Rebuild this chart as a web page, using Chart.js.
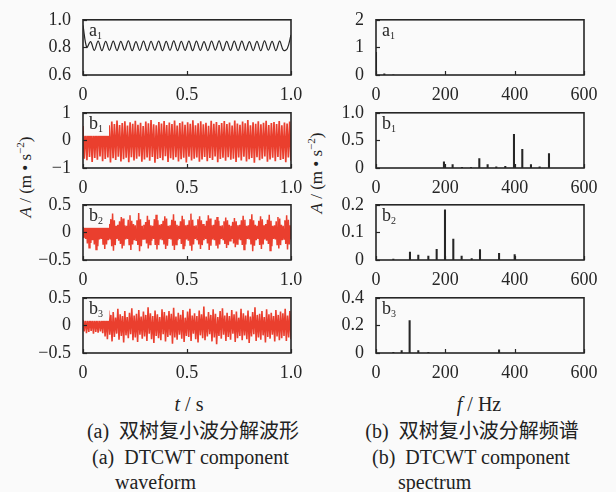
<!DOCTYPE html>
<html>
<head>
<meta charset="utf-8">
<script src="https://cdn.jsdelivr.net/npm/chart.js@4.4.1/dist/chart.umd.min.js"></script>
<style>
  body { margin: 0; width: 616px; height: 492px; position: relative; overflow: hidden;
         background: #fafafa; color: #222; font-family: "Liberation Serif", "Noto Sans CJK SC", serif; }
  .panel { position: absolute; }
  .txt { position: absolute; white-space: nowrap; font-size: 20px; line-height: 24px; }
  .center { transform: translateX(-50%); }
  .ytitle { position: absolute; white-space: nowrap; font-size: 17px; transform: translate(-50%, -50%) rotate(-90deg); }
  sup { font-size: 11px; vertical-align: 7px; }
</style>
</head>
<body>
<div class="ytitle" style="left:25px; top:177px;"><i>A</i> / (m • s<sup>−2</sup>)</div>
<div class="ytitle" style="left:316px; top:173px;"><i>A</i> / (m • s<sup>−2</sup>)</div>
<div class="txt center" style="left:189px; top:392px;"><i>t</i> / s</div>
<div class="txt center" style="left:479px; top:392px;"><i>f</i> / Hz</div>
<div class="txt center" style="left:193px; top:419px;">(a)&nbsp; 双树复小波分解波形</div>
<div class="txt center" style="left:472px; top:419px;">(b)&nbsp; 双树复小波分解频谱</div>
<div class="txt" style="left:92px; top:445px;">(a)&nbsp; DTCWT component</div>
<div class="txt" style="left:115px; top:470px;">waveform</div>
<div class="txt" style="left:372px; top:445px;">(b)&nbsp; DTCWT component</div>
<div class="txt" style="left:398px; top:470px;">spectrum</div>

<script>
// ---- tick values and labels ----
const timeTicks = [0, 0.5, 1];
const timeLabels = ['0', '0.5', '1.0'];
const freqTicks = [0, 200, 400, 600];
const freqLabels = ['0', '200', '400', '600'];

const a1WaveTicks = [0.6, 0.8, 1.0];
const a1WaveLabels = ['0.6', '0.8', '1.0'];
const b1WaveTicks = [-1, 0, 1];
const b1WaveLabels = ['−1', '0', '1'];
const b2WaveTicks = [-0.5, 0, 0.5];
const b2WaveLabels = ['−0.5', '0', '0.5'];
const b3WaveTicks = [-0.5, 0, 0.5];
const b3WaveLabels = ['−0.5', '0', '0.5'];

const a1SpecTicks = [0, 1, 2];
const a1SpecLabels = ['0', '1', '2'];
const b1SpecTicks = [0, 0.5, 1];
const b1SpecLabels = ['0', '0.5', '1.0'];
const b2SpecTicks = [0, 0.1, 0.2];
const b2SpecLabels = ['0', '0.1', '0.2'];
const b3SpecTicks = [0, 0.2, 0.4];
const b3SpecLabels = ['0', '0.2', '0.4'];

// ---- waveforms (a1: samples; b1..b3: alternating crest / trough values) ----
const a1Wave = [
  0.96, 0.80, 0.842, 0.778, 0.846, 0.776, 0.843, 0.779, 0.845, 0.777,
  0.844, 0.780, 0.847, 0.776, 0.842, 0.778, 0.846, 0.777, 0.843, 0.780,
  0.845, 0.776, 0.844, 0.779, 0.847, 0.777, 0.843, 0.778, 0.845, 0.776,
  0.846, 0.779, 0.842, 0.777, 0.845, 0.780, 0.847, 0.776, 0.843, 0.778,
  0.845, 0.777, 0.846, 0.779, 0.842, 0.777, 0.844, 0.776, 0.847, 0.780,
  0.843, 0.777, 0.845, 0.778, 0.79, 0.89
];

const b1Upper = [
  0.52, 0.50, 0.55, 0.51, 0.53, 0.50, 0.64, 0.57, 0.70, 0.61, 0.55, 0.68, 0.59, 0.72, 0.56, 0.63, 0.69, 0.54, 0.66, 0.60,
  0.71, 0.57, 0.64, 0.52, 0.68, 0.62, 0.74, 0.58, 0.55, 0.67, 0.61, 0.70, 0.56, 0.65, 0.59, 0.72, 0.54, 0.63, 0.68, 0.57,
  0.66, 0.60, 0.73, 0.55, 0.62, 0.69, 0.58, 0.64, 0.53, 0.71, 0.60, 0.67, 0.56, 0.63, 0.70, 0.59, 0.65, 0.54, 0.72, 0.61,
  0.57, 0.68, 0.62, 0.74, 0.55, 0.66, 0.60, 0.69, 0.58, 0.64, 0.71, 0.56, 0.63, 0.67, 0.59, 0.70, 0.55, 0.65, 0.61, 0.68
];
const b1Lower = [
  -0.66, -0.72, -0.60, -0.78, -0.64, -0.70, -0.58, -0.75, -0.67, -0.62, -0.80, -0.65, -0.71, -0.59, -0.76, -0.68, -0.63, -0.79, -0.61, -0.73,
  -0.66, -0.58, -0.77, -0.69, -0.62, -0.74, -0.60, -0.81, -0.67, -0.64, -0.72, -0.57, -0.78, -0.65, -0.70, -0.61, -0.76, -0.68, -0.63, -0.80,
  -0.59, -0.73, -0.66, -0.62, -0.77, -0.69, -0.60, -0.75, -0.64, -0.71, -0.58, -0.79, -0.67, -0.63, -0.74, -0.61, -0.70, -0.66, -0.78, -0.62,
  -0.73, -0.59, -0.76, -0.68, -0.64, -0.81, -0.61, -0.72, -0.66, -0.58, -0.77, -0.69, -0.63, -0.75, -0.60, -0.71, -0.67, -0.79, -0.62, -0.74
];

const b2Upper = [
  0.10, 0.12, 0.18, 0.27, 0.20,  0.13, 0.21, 0.33, 0.24, 0.14,  0.12, 0.22, 0.29, 0.23, 0.13,  0.15, 0.24, 0.34, 0.22, 0.12,
  0.14, 0.20, 0.28, 0.25, 0.13,  0.12, 0.23, 0.31, 0.21, 0.15,  0.13, 0.22, 0.35, 0.24, 0.12,  0.14, 0.19, 0.30, 0.23, 0.13,
  0.12, 0.24, 0.32, 0.22, 0.14,  0.15, 0.21, 0.29, 0.25, 0.12,  0.13, 0.23, 0.33, 0.21, 0.14,  0.12, 0.20, 0.30, 0.24, 0.13,
  0.14, 0.22, 0.34, 0.23, 0.12,  0.13, 0.24, 0.29, 0.22, 0.15,  0.12, 0.21, 0.31, 0.25, 0.13,  0.14, 0.23, 0.28, 0.21, 0.12,
  0.13, 0.20, 0.27, 0.22, 0.14,  0.12, 0.19, 0.26, 0.20, 0.13,  0.14, 0.22, 0.30, 0.23, 0.12,  0.13, 0.24, 0.33, 0.22, 0.14,
  0.12, 0.21, 0.29, 0.24, 0.13,  0.15, 0.23, 0.32, 0.21, 0.12,  0.13, 0.20, 0.28, 0.25, 0.14,  0.12, 0.22, 0.31, 0.23, 0.13
];
const b2Lower = [
  -0.10, -0.12, -0.20, -0.28, -0.19,  -0.14, -0.22, -0.31, -0.25, -0.13,  -0.12, -0.21, -0.30, -0.22, -0.14,  -0.13, -0.25, -0.33, -0.23, -0.12,
  -0.15, -0.21, -0.29, -0.24, -0.13,  -0.12, -0.22, -0.32, -0.22, -0.14,  -0.14, -0.23, -0.34, -0.25, -0.12,  -0.13, -0.20, -0.29, -0.22, -0.15,
  -0.12, -0.23, -0.31, -0.23, -0.13,  -0.14, -0.22, -0.30, -0.24, -0.12,  -0.13, -0.24, -0.32, -0.22, -0.14,  -0.12, -0.21, -0.29, -0.25, -0.13,
  -0.15, -0.23, -0.33, -0.22, -0.12,  -0.13, -0.22, -0.30, -0.23, -0.14,  -0.12, -0.20, -0.32, -0.24, -0.13,  -0.14, -0.24, -0.29, -0.22, -0.12,
  -0.13, -0.21, -0.28, -0.23, -0.15,  -0.12, -0.20, -0.27, -0.21, -0.13,  -0.14, -0.23, -0.31, -0.22, -0.12,  -0.13, -0.22, -0.34, -0.24, -0.14,
  -0.12, -0.23, -0.30, -0.22, -0.13,  -0.15, -0.21, -0.33, -0.25, -0.12,  -0.13, -0.22, -0.29, -0.23, -0.14,  -0.12, -0.21, -0.31, -0.22, -0.13
];

const b3Upper = [
  0.10, 0.13, 0.11, 0.14, 0.12, 0.15, 0.11, 0.13, 0.12, 0.22,
  0.16, 0.27, 0.19, 0.24, 0.14, 0.30, 0.20, 0.17, 0.26, 0.15,
  0.23, 0.31, 0.18, 0.21, 0.28, 0.16, 0.25, 0.19, 0.33, 0.22,
  0.17, 0.27, 0.20, 0.15, 0.29, 0.24, 0.18, 0.26, 0.21, 0.32,
  0.16, 0.23, 0.19, 0.28, 0.14, 0.25, 0.30, 0.18, 0.22, 0.17,
  0.27, 0.20, 0.34, 0.16, 0.24, 0.19, 0.29, 0.21, 0.15, 0.26,
  0.31, 0.18, 0.23, 0.17, 0.28, 0.20, 0.25, 0.14, 0.30, 0.22,
  0.18, 0.27, 0.16, 0.24, 0.33, 0.19, 0.21, 0.26, 0.15, 0.29,
  0.20, 0.23, 0.17, 0.28, 0.19, 0.25, 0.22, 0.30, 0.18, 0.26
];
const b3Lower = [
  -0.11, -0.14, -0.12, -0.10, -0.15, -0.12, -0.13, -0.11, -0.14, -0.20,
  -0.25, -0.17, -0.29, -0.21, -0.15, -0.26, -0.19, -0.31, -0.18, -0.23,
  -0.16, -0.27, -0.22, -0.30, -0.17, -0.24, -0.20, -0.28, -0.15, -0.25,
  -0.32, -0.19, -0.23, -0.27, -0.16, -0.29, -0.21, -0.18, -0.33, -0.22,
  -0.26, -0.17, -0.24, -0.30, -0.19, -0.21, -0.28, -0.15, -0.25, -0.31,
  -0.18, -0.23, -0.27, -0.20, -0.16, -0.29, -0.22, -0.34, -0.19, -0.24,
  -0.17, -0.28, -0.21, -0.26, -0.15, -0.30, -0.23, -0.19, -0.27, -0.18,
  -0.25, -0.32, -0.20, -0.16, -0.28, -0.22, -0.26, -0.18, -0.31, -0.21,
  -0.24, -0.17, -0.29, -0.20, -0.27, -0.23, -0.19, -0.28, -0.22, -0.25
];

// ---- spectra (Hz, m/s^2) ----
const a1SpecFreq = [0, 24, 50];
const a1SpecAmp = [0.82, 0.04, 0.01];
const b1SpecFreq = [196, 221, 248, 274, 298, 322, 347, 373, 398, 422, 447, 472, 499];
const b1SpecAmp = [0.11, 0.06, 0.01, 0.01, 0.17, 0.06, 0.02, 0.03, 0.61, 0.34, 0.06, 0.02, 0.26];
const b2SpecFreq = [50, 98, 122, 151, 175, 199, 223, 247, 276, 300, 355, 400];
const b2SpecAmp = [0.003, 0.029, 0.018, 0.014, 0.039, 0.182, 0.076, 0.014, 0.005, 0.038, 0.024, 0.020];
const b3SpecFreq = [50, 74, 97, 122, 151, 355];
const b3SpecAmp = [0.005, 0.018, 0.235, 0.018, 0.004, 0.023];

const BG = '#fafafa';
const RED = '#ea3f2e';
const INK = '#262626';

Chart.defaults.font.family = '"Liberation Serif", serif';
Chart.defaults.font.size = 18;
Chart.defaults.color = INK;
Chart.defaults.animation = false;

function samples(values) {
  return values.map((v, i) => ({ x: i / (values.length - 1), y: v }));
}

function crestTrough(upper, lower) {
  const total = upper.length * 2 - 1;
  const pts = [];
  upper.forEach((u, i) => {
    pts.push({ x: (2 * i) / total, y: u });
    pts.push({ x: (2 * i + 1) / total, y: lower[i] });
  });
  return pts;
}

function spikes(freq, amp) {
  return freq.map((f, i) => ({ x: f, y: amp[i] }));
}

// frame, inward ticks and panel tag
const framePlugin = {
  id: 'frame',
  afterDatasetsDraw(chart, args, opts) {
    const { ctx, chartArea: { left, top, right, bottom }, scales: { x, y } } = chart;
    ctx.save();
    if (opts.boxed) {
      ctx.fillStyle = BG;
      ctx.fillRect(left + 1, top + 1, 25, 22);
    }
    ctx.strokeStyle = INK;
    ctx.lineWidth = 1.2;
    x.ticks.forEach((t) => {
      const px = Math.round(x.getPixelForValue(t.value)) + 0.5;
      ctx.beginPath(); ctx.moveTo(px, bottom); ctx.lineTo(px, bottom - 4); ctx.stroke();
    });
    y.ticks.forEach((t) => {
      const py = Math.round(y.getPixelForValue(t.value)) + 0.5;
      ctx.beginPath(); ctx.moveTo(left, py); ctx.lineTo(left + 4, py); ctx.stroke();
    });
    ctx.lineWidth = 1.6;
    ctx.strokeRect(left, top, right - left, bottom - top);

    ctx.fillStyle = INK;
    ctx.textBaseline = 'alphabetic';
    ctx.font = '18px "Liberation Serif"';
    ctx.fillText(opts.tag, left + 6, top + 16);
    const w = ctx.measureText(opts.tag).width;
    ctx.font = '10px "Liberation Serif"';
    ctx.fillText(opts.sub, left + 6 + w, top + 19);
    ctx.restore();
  }
};

const PLOT_W = 208, PLOT_H = 60;
const Y_AXIS_W = 60, X_AXIS_H = 26, PAD_TOP = 10, PAD_RIGHT = 22;
const colLeft = [83, 376];
const rowTop = [15, 108, 200, 293];

function axis(min, max, tickValues, tickLabels, isX) {
  return {
    type: 'linear',
    min, max,
    offset: false,
    grid: { display: false, offset: false },
    border: { display: false },
    afterBuildTicks: (sc) => { sc.ticks = tickValues.map((v) => ({ value: v })); },
    afterFit: (sc) => { if (isX) sc.height = X_AXIS_H; else sc.width = Y_AXIS_W; },
    ticks: {
      autoSkip: false, maxRotation: 0, minRotation: 0,
      padding: isX ? 1 : 4,
      color: INK,
      callback: (v, i) => tickLabels[i]
    }
  };
}

function panel(col, row, type, dataset, xs, ys, tag, sub, boxed) {
  const div = document.createElement('div');
  div.className = 'panel';
  const w = Y_AXIS_W + PLOT_W + PAD_RIGHT, h = PAD_TOP + PLOT_H + X_AXIS_H;
  div.style.left = (colLeft[col] - Y_AXIS_W) + 'px';
  div.style.top = (rowTop[row] - PAD_TOP) + 'px';
  div.style.width = w + 'px';
  div.style.height = h + 'px';
  const canvas = document.createElement('canvas');
  div.appendChild(canvas);
  document.body.appendChild(div);
  new Chart(canvas, {
    type,
    data: { datasets: [dataset] },
    options: {
      responsive: true,
      maintainAspectRatio: false,
      devicePixelRatio: 1,
      layout: { padding: { top: PAD_TOP, right: PAD_RIGHT, left: 0, bottom: 0 } },
      plugins: { legend: { display: false }, tooltip: { enabled: false }, frame: { tag, sub, boxed } },
      scales: { x: xs, y: ys }
    },
    plugins: [framePlugin]
  });
}

function waveLine(points, color, width, tension) {
  return { data: points, borderColor: color, borderWidth: width, pointRadius: 0, tension, fill: false };
}

function specBars(points) {
  return { data: points, backgroundColor: INK, borderWidth: 0, barThickness: 1.4 };
}

const timeAxis = () => axis(0, 1, timeTicks, timeLabels, true);
const freqAxis = () => axis(0, 600, freqTicks, freqLabels, true);

panel(0, 0, 'line', waveLine(samples(a1Wave), INK, 1.2, 0.35), timeAxis(), axis(0.6, 1.0, a1WaveTicks, a1WaveLabels, false), 'a', '1', false);
panel(0, 1, 'line', waveLine(crestTrough(b1Upper, b1Lower), RED, 1.7, 0), timeAxis(), axis(-1, 1, b1WaveTicks, b1WaveLabels, false), 'b', '1', true);
panel(0, 2, 'line', waveLine(crestTrough(b2Upper, b2Lower), RED, 1.5, 0), timeAxis(), axis(-0.5, 0.5, b2WaveTicks, b2WaveLabels, false), 'b', '2', true);
panel(0, 3, 'line', waveLine(crestTrough(b3Upper, b3Lower), RED, 1.6, 0), timeAxis(), axis(-0.5, 0.5, b3WaveTicks, b3WaveLabels, false), 'b', '3', true);

panel(1, 0, 'bar', specBars(spikes(a1SpecFreq, a1SpecAmp)), freqAxis(), axis(0, 2, a1SpecTicks, a1SpecLabels, false), 'a', '1', false);
panel(1, 1, 'bar', specBars(spikes(b1SpecFreq, b1SpecAmp)), freqAxis(), axis(0, 1, b1SpecTicks, b1SpecLabels, false), 'b', '1', false);
panel(1, 2, 'bar', specBars(spikes(b2SpecFreq, b2SpecAmp)), freqAxis(), axis(0, 0.2, b2SpecTicks, b2SpecLabels, false), 'b', '2', false);
panel(1, 3, 'bar', specBars(spikes(b3SpecFreq, b3SpecAmp)), freqAxis(), axis(0, 0.4, b3SpecTicks, b3SpecLabels, false), 'b', '3', false);
</script>
</body>
</html>
